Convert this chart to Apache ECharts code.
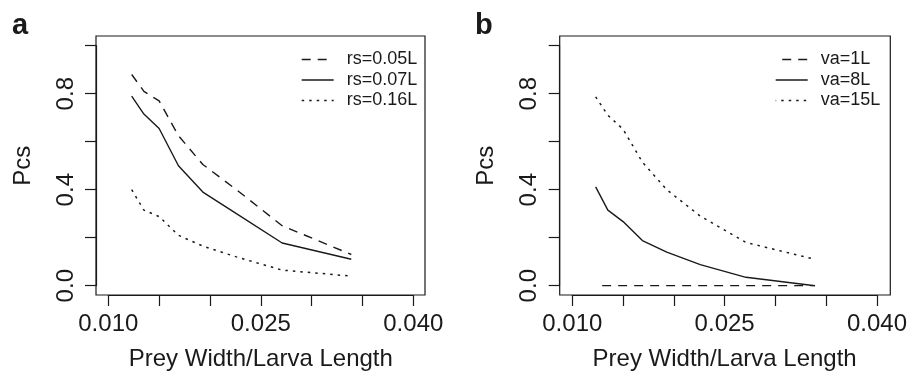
<!DOCTYPE html>
<html>
<head>
<meta charset="utf-8">
<script src="https://cdn.jsdelivr.net/npm/echarts@6/dist/echarts.min.js"></script>
<style>
html,body{margin:0;padding:0;background:#fff;}
#chart{width:917px;height:373px;}
</style>
</head>
<body>
<div id="chart"></div>
<script>
// ---- data ----
var xValues = [0.0123, 0.0135, 0.0150, 0.0169, 0.0193, 0.0226, 0.0271, 0.0339];
var aNames = ['rs=0.05L', 'rs=0.07L', 'rs=0.16L'];
var aDash  = [0.88, 0.81, 0.77, 0.625, 0.505, 0.40, 0.25, 0.13];
var aSolid = [0.79, 0.715, 0.655, 0.50, 0.39, 0.30, 0.178, 0.11];
var aDot   = [0.40, 0.315, 0.288, 0.21, 0.165, 0.12, 0.065, 0.04];
var bNames = ['va=1L', 'va=8L', 'va=15L'];
var bDash  = [0, 0, 0, 0, 0, 0, 0, 0];
var bSolid = [0.412, 0.315, 0.267, 0.188, 0.14, 0.088, 0.035, 0.0];
var bDot   = [0.787, 0.71, 0.652, 0.515, 0.40, 0.29, 0.18, 0.11];
var xTickLabels = ['0.010', '0.025', '0.040'];
var yTickLabels = ['0.0', '0.4', '0.8'];
var xLabelValues = [0.010, 0.025, 0.040];
var yLabelValues = [0.0, 0.4, 0.8];
var xTitle = 'Prey Width/Larva Length';
var yTitle = 'Pcs';

// ---- build ----
var FONT = '"Liberation Sans", Arial, Helvetica, sans-serif';
var INK = '#1a1a1a';
function pairs(ys) { return xValues.map(function (x, i) { return [x, ys[i]]; }); }
function fmt(vals, labels) {
  return function (v) {
    for (var i = 0; i < vals.length; i++) if (Math.abs(v - vals[i]) < 1e-9) return labels[i];
    return '';
  };
}
var styles = {
  dash: { type: [9, 7], width: 1.4, color: INK },
  solid: { type: 'solid', width: 1.4, color: INK },
  dot: { type: [2.5, 5], width: 1.5, color: INK }
};

var panels = [
  { left: 108.3, width: 305, boxLeft: 96, boxWidth: 329, names: aNames, data: [aDash, aSolid, aDot], legendLeft: 301 },
  { left: 572.3, width: 304.7, boxLeft: 559.7, boxWidth: 330.6, names: bNames, data: [bDash, bSolid, bDot], legendLeft: 775 }
];

var grid = [], xAxis = [], yAxis = [], series = [], legend = [];
panels.forEach(function (p, k) {
  grid.push({ left: p.left, top: 45.7, width: p.width, height: 240, containLabel: false, outerBoundsMode: 'none' });
  grid.push({ left: p.boxLeft, top: 36, width: p.boxWidth, height: 259, show: true, borderColor: INK, borderWidth: 1.2, backgroundColor: 'transparent', containLabel: false, outerBoundsMode: 'none' });
  var gi = k * 2;
  xAxis.push({
    type: 'value', gridIndex: gi, min: 0.01, max: 0.04, interval: 0.005, offset: 9.3,
    axisLine: { show: true, onZero: false, lineStyle: { color: INK, width: 1.2 } },
    axisTick: { show: true, length: 11, lineStyle: { color: INK, width: 1.2 } },
    splitLine: { show: false },
    axisLabel: { show: true, formatter: fmt(xLabelValues, xTickLabels), showMinLabel: true, showMaxLabel: true,
      fontFamily: FONT, fontSize: 24, color: INK, margin: 17 },
    name: xTitle, nameLocation: 'middle', nameGap: 52,
    nameTextStyle: { fontFamily: FONT, fontSize: 24, color: INK }
  });
  yAxis.push({
    type: 'value', gridIndex: gi, min: 0, max: 1, interval: 0.2, offset: p.left - p.boxLeft,
    axisLine: { show: true, onZero: false, lineStyle: { color: INK, width: 1.2 } },
    axisTick: { show: true, length: 11, lineStyle: { color: INK, width: 1.2 } },
    splitLine: { show: false },
    axisLabel: { show: true, rotate: 90, formatter: fmt(yLabelValues, yTickLabels), showMinLabel: true, showMaxLabel: true,
      fontFamily: FONT, fontSize: 24, color: INK, margin: 18 },
    name: yTitle, nameLocation: 'middle', nameGap: 61,
    nameTextStyle: { fontFamily: FONT, fontSize: 24, color: INK }
  });
  xAxis.push({ type: 'value', gridIndex: gi + 1, show: false, min: 0, max: 1 });
  yAxis.push({ type: 'value', gridIndex: gi + 1, show: false, min: 0, max: 1 });
  var kinds = ['dash', 'solid', 'dot'];
  p.data.forEach(function (ys, j) {
    var ls = Object.assign({}, styles[kinds[j]]);
    if (k === 1 && j === 0) ls.dashOffset = 9.5;
    series.push({
      name: p.names[j], type: 'line', xAxisIndex: gi, yAxisIndex: gi,
      data: pairs(ys), symbol: 'none', showSymbol: false, silent: true, animation: false,
      lineStyle: ls, itemStyle: { color: INK }, z: 5
    });
  });
  legend.push({
    data: p.names, orient: 'vertical', left: p.legendLeft, top: 50, padding: 0,
    itemWidth: 32, itemHeight: 10, itemGap: 1.5, itemTextGap: 5,
    itemStyle: { opacity: 0 },
    lineStyle: { width: 1.4 },
    textStyle: { fontFamily: FONT, fontSize: 18, color: INK, lineHeight: 19, padding: [0, 0, 0, 8] },
    selectedMode: false
  });
});

var chart = echarts.init(document.getElementById('chart'), null, { renderer: 'canvas' });
chart.setOption({
  backgroundColor: '#fff',
  animation: false,
  title: [
    { text: 'a', left: 12, top: 11, padding: 0, textStyle: { fontFamily: FONT, fontSize: 29, fontWeight: 'bold', color: INK } },
    { text: 'b', left: 475, top: 11, padding: 0, textStyle: { fontFamily: FONT, fontSize: 29, fontWeight: 'bold', color: INK } }
  ],
  grid: grid, xAxis: xAxis, yAxis: yAxis, legend: legend, series: series
});
</script>
</body>
</html>
